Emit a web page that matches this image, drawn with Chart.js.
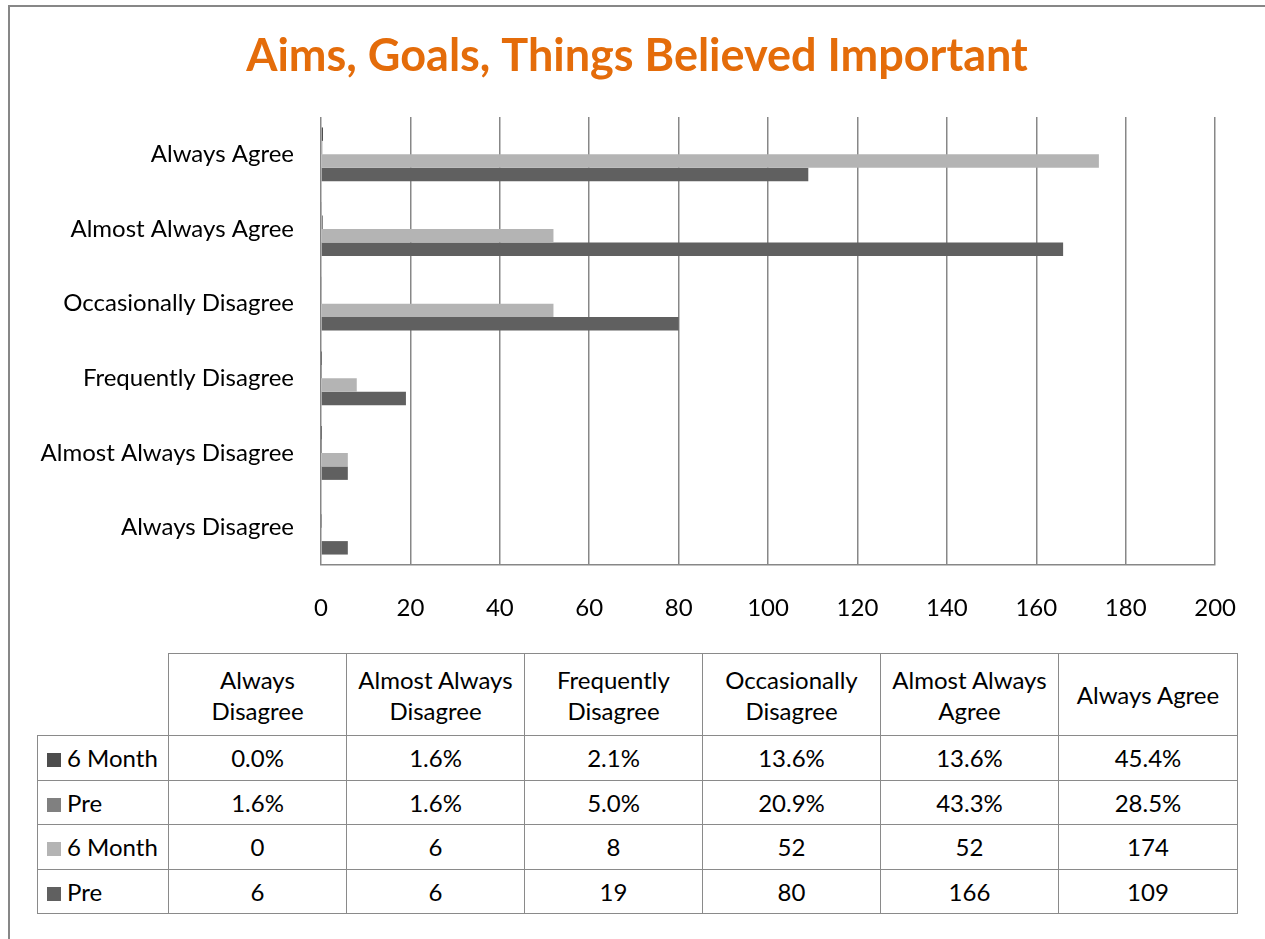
<!DOCTYPE html>
<html>
<head>
<meta charset="utf-8">
<script src="https://cdn.jsdelivr.net/npm/chart.js@4"></script>
<style>
  body { margin: 0; background: #fff; font-family: Lato, "Open Sans", sans-serif; }
  #frame { position: absolute; left: 8px; top: 5px; width: 1400px; height: 1000px;
           border-left: 2px solid #878787; border-top: 2px solid #878787; }
  #chart-box { position: absolute; left: 0; top: 0; width: 1265px; height: 640px; }
  #data-table { position: absolute; left: 37px; top: 653px; width: 1200px; table-layout: fixed;
                border-collapse: collapse; font-size: 24px; color: #000; }
  #data-table td { border: 1px solid #8a8a8a; text-align: center; padding: 0; line-height: 31px;
                   white-space: nowrap; overflow: hidden; }
  #data-table tr.head td { height: 81px; }
  #data-table tr.row td { height: 43.5px; }
  #data-table td.corner { border-top: none; border-left: none; }
  #data-table td.key { text-align: left; padding-left: 9px; }
  .swatch { display: inline-block; width: 14px; height: 14px; margin-right: 6px; vertical-align: 0px; }
</style>
</head>
<body>
<div id="frame"></div>
<div id="chart-box"><canvas id="aimsChart"></canvas></div>
<table id="data-table">
  <colgroup><col style="width:131px"><col style="width:178px"><col style="width:178px"><col style="width:178px">
  <col style="width:178px"><col style="width:178px"><col style="width:179px"></colgroup>
</table>
<script>
// Categories in table order (the chart shows them bottom to top)
const categories = ["Always Disagree", "Almost Always Disagree", "Frequently Disagree",
                    "Occasionally Disagree", "Almost Always Agree", "Always Agree"];
const headerLines = [["Always", "Disagree"], ["Almost Always", "Disagree"], ["Frequently", "Disagree"],
                     ["Occasionally", "Disagree"], ["Almost Always", "Agree"], ["Always Agree"]];

// Shares (as fractions) and counts
const sixMonthPct = [0.000, 0.016, 0.021, 0.136, 0.136, 0.454];
const prePct = [0.016, 0.016, 0.050, 0.209, 0.433, 0.285];
const sixMonthCount = [0, 6, 8, 52, 52, 174];
const preCount = [6, 6, 19, 80, 166, 109];

const xTicks = [0, 20, 40, 60, 80, 100, 120, 140, 160, 180, 200];

const series = [
    { label: "6 Month", values: sixMonthPct, color: "#4d4d4d", pct: true },
    { label: "Pre", values: prePct, color: "#808080", pct: true },
    { label: "6 Month", values: sixMonthCount, color: "#b4b4b4", pct: false },
    { label: "Pre", values: preCount, color: "#606060", pct: false },
];

const fontFamily = "Lato, 'Open Sans', sans-serif";
const gridColor = "#878787";

Chart.defaults.font.family = fontFamily;
Chart.defaults.color = "#000";

// Centre the title over the whole frame, not just the area left of the right padding
const centreTitle = {
    id: "centreTitle",
    afterLayout(chart) {
        if (chart.titleBlock) {
            chart.titleBlock.left = 9;
            chart.titleBlock.right = chart.width;
        }
    },
};

const ctx = document.getElementById("aimsChart").getContext("2d");
const aimsChart = new Chart(ctx, {
    type: "bar",
    data: {
        labels: categories,
        datasets: series.map((s) => ({
            label: s.label,
            data: s.values,
            backgroundColor: s.color,
            borderWidth: 0,
            categoryPercentage: 0.72,
            barPercentage: 1.0,
        })),
    },
    plugins: [centreTitle],
    options: {
        indexAxis: "y",
        responsive: true,
        maintainAspectRatio: false,
        animation: false,
        layout: { padding: { left: 0, right: 49, top: 0, bottom: 0 } },
        plugins: {
            legend: { display: false },
            tooltip: { enabled: false },
            title: {
                display: true,
                text: "Aims, Goals, Things Believed Important",
                color: "#E46C0A",
                font: { size: 45, weight: "bold", family: fontFamily },
                padding: { top: 29, bottom: 34 },
            },
        },
        scales: {
            x: {
                min: 0,
                max: 200,
                afterBuildTicks: (scale) => { scale.ticks = xTicks.map((v) => ({ value: v })); },
                afterFit: (scale) => { scale.height = 75; },
                grid: { color: gridColor, lineWidth: 1.5, drawTicks: false },
                border: { display: true, color: gridColor, width: 1.5 },
                ticks: { padding: 29, font: { size: 24 }, color: "#000" },
            },
            y: {
                reverse: true,
                afterFit: (scale) => { scale.width = 321; },
                grid: { display: false, drawTicks: false },
                border: { display: false },
                ticks: { padding: 27, font: { size: 24 }, color: "#000" },
            },
        },
    },
});

// Data table underneath the chart
function buildTable() {
    const table = document.getElementById("data-table");
    const head = document.createElement("tr");
    head.className = "head";
    const corner = document.createElement("td");
    corner.className = "corner";
    head.appendChild(corner);
    headerLines.forEach((lines) => {
        const td = document.createElement("td");
        td.innerHTML = lines.join("<br>");
        head.appendChild(td);
    });
    table.appendChild(head);

    series.forEach((s) => {
        const tr = document.createElement("tr");
        tr.className = "row";
        const key = document.createElement("td");
        key.className = "key";
        key.innerHTML = '<span class="swatch" style="background:' + s.color + '"></span>' + s.label;
        tr.appendChild(key);
        s.values.forEach((v) => {
            const td = document.createElement("td");
            td.textContent = s.pct ? (v * 100).toFixed(1) + "%" : String(v);
            tr.appendChild(td);
        });
        table.appendChild(tr);
    });
}
buildTable();
</script>
</body>
</html>
